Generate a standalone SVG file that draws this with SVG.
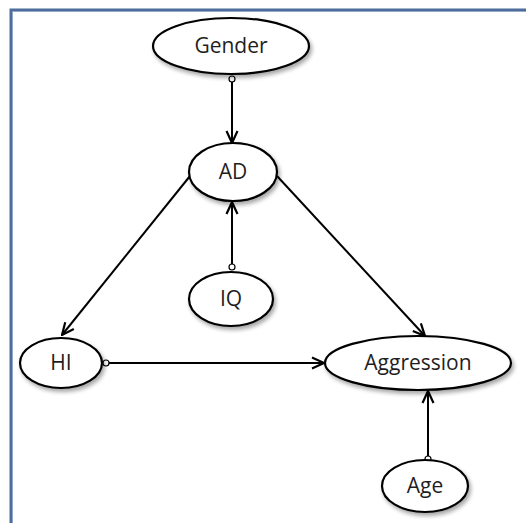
<svg xmlns="http://www.w3.org/2000/svg" width="526" height="523" viewBox="0 0 526 523">
  <style>
    .node ellipse { fill: #ffffff; stroke: #000000; stroke-width: 2.2; filter: url(#shadow); }
    .node text { font-family: "Open Sans", "Liberation Sans", sans-serif; font-size: 21px; fill: #1e1e1e; text-anchor: middle; }
    .edge { fill: none; stroke: #000000; stroke-width: 2; marker-end: url(#arrow); }
    .tail { fill: #ffffff; stroke: #000000; stroke-width: 1.2; }
  </style>
  <defs>
    <filter id="shadow" x="-20%" y="-30%" width="150%" height="170%">
      <feGaussianBlur in="SourceAlpha" stdDeviation="2"/>
      <feOffset dx="2" dy="3" result="blur"/>
      <feComponentTransfer><feFuncA type="linear" slope="0.35"/></feComponentTransfer>
      <feMerge><feMergeNode/><feMergeNode in="SourceGraphic"/></feMerge>
    </filter>
    <marker id="arrow" viewBox="0 0 14 14" refX="13" refY="7" markerWidth="14" markerHeight="14" markerUnits="userSpaceOnUse" orient="auto">
      <path d="M1,1.5 L13,7 L1,12.5" fill="none" stroke="#000000" stroke-width="2.2"/>
    </marker>
  </defs>

  <rect width="526" height="523" fill="#ffffff"/>
  <!-- frame: dark outer stroke with a lighter inner line -->
  <path d="M11,523 V10 H526" fill="none" stroke="#4d6d9c" stroke-width="3"/>
  <path d="M12.5,523 V11.5 H526" fill="none" stroke="#8fa6c6" stroke-width="0.8"/>

  <g id="connectors">
    <line class="edge" x1="232" y1="79" x2="232" y2="143"/>
    <line class="edge" x1="232" y1="267" x2="232" y2="202"/>
    <line class="edge" x1="190" y1="176" x2="62" y2="335"/>
    <line class="edge" x1="277" y1="176" x2="425" y2="336"/>
    <line class="edge" x1="106" y1="363" x2="324" y2="363"/>
    <line class="edge" x1="428" y1="459" x2="428" y2="391"/>
    <circle class="tail" cx="232" cy="79" r="3"/>
    <circle class="tail" cx="232" cy="267" r="3"/>
    <circle class="tail" cx="106" cy="363" r="3"/>
    <circle class="tail" cx="428" cy="459" r="3"/>
  </g>

  <g id="gender" class="node">
    <ellipse cx="231" cy="46" rx="78" ry="28"/>
    <text x="231" y="53">Gender</text>
  </g>
  <g id="ad" class="node">
    <ellipse cx="233" cy="172" rx="44" ry="29"/>
    <text x="233" y="179">AD</text>
  </g>
  <g id="iq" class="node">
    <ellipse cx="231" cy="299" rx="42" ry="27"/>
    <text x="231" y="306">IQ</text>
  </g>
  <g id="hi" class="node">
    <ellipse cx="61" cy="363" rx="41" ry="25"/>
    <text x="61" y="370">HI</text>
  </g>
  <g id="aggression" class="node">
    <ellipse cx="418" cy="363" rx="93" ry="27"/>
    <text x="418" y="370">Aggression</text>
  </g>
  <g id="age" class="node">
    <ellipse cx="425" cy="486" rx="43" ry="26"/>
    <text x="425" y="493">Age</text>
  </g>
</svg>
